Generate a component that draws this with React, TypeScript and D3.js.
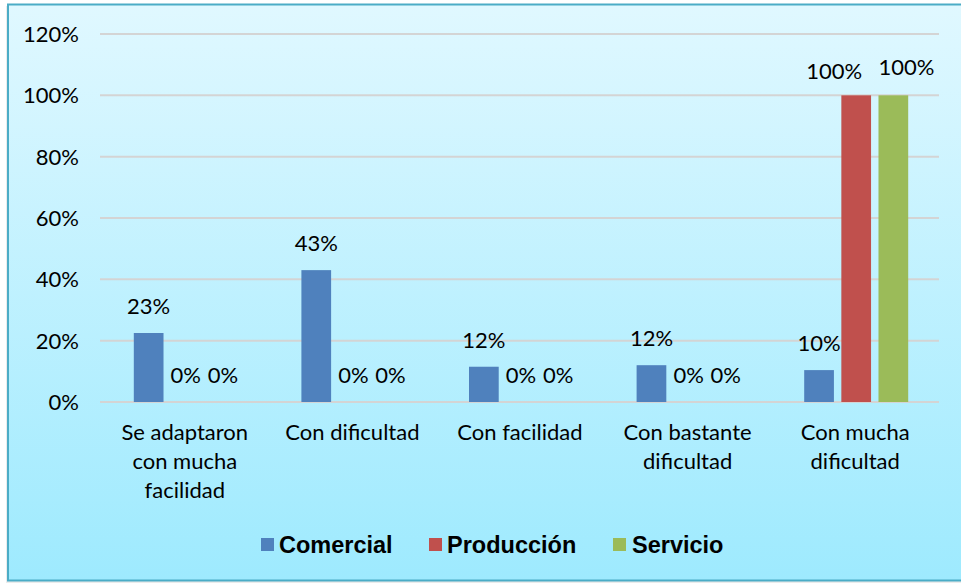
import React from "react";
import * as d3 from "d3";

const categories: string[][] = [
  ["Se adaptaron", "con mucha", "facilidad"],
  ["Con dificultad"],
  ["Con facilidad"],
  ["Con bastante", "dificultad"],
  ["Con mucha", "dificultad"],
];
const seriesNames = ["Comercial", "Producción", "Servicio"];
const comercial = [0.225, 0.43, 0.115, 0.12, 0.104];
const produccion = [0, 0, 0, 0, 1];
const servicio = [0, 0, 0, 0, 1];
const yTicks = [0, 0.2, 0.4, 0.6, 0.8, 1.0, 1.2];

const colors = ["#4f81bd", "#c0504d", "#9bbb59"];
const W = 961;
const H = 583;

// manual label nudges (as placed in the original chart)
const labelNudge: Record<string, [number, number]> = {
  "1-4": [-22, 3],
  "2-4": [13, -1],
};

export default function App() {
  const series = [comercial, produccion, servicio];
  const x0 = d3
    .scaleBand<number>()
    .domain(categories.map((_, i) => i))
    .range([102, 940]);
  const x1 = d3
    .scaleBand<number>()
    .domain([0, 1, 2])
    .range([0, 104])
    .paddingInner(0.2);
  const y = d3.scaleLinear().domain([0, 1.2]).range([402, 34]);
  const groupOffset = (x0.bandwidth() - 104) / 2;
  const fmt = (v: number) => `${Math.round(v * 100)}%`;
  const font = "Lato, 'Open Sans', sans-serif";

  const legendItems = [
    { sx: 261, tx: 279 },
    { sx: 429, tx: 447 },
    { sx: 613, tx: 632 },
  ];

  return (
    <svg
      width={W}
      height={H}
      style={{ position: "absolute", left: 0, top: 0, display: "block" }}
    >
      <defs>
        <linearGradient id="bg" x1="0" y1="0" x2="0" y2="1">
          <stop offset="0" stopColor="#e0f8ff" />
          <stop offset="1" stopColor="#9eeafe" />
        </linearGradient>
      </defs>
      <rect x={6} y={6} width={W} height={H - 6} fill="#d8d8d8" opacity={0.5} />
      <rect
        x={8}
        y={4.5}
        width={W + 10}
        height={576}
        fill="url(#bg)"
        stroke="#4bacc6"
        strokeWidth={2}
      />
      {yTicks.map((t) => (
        <g key={t}>
          <line
            x1={100}
            x2={939}
            y1={y(t)}
            y2={y(t)}
            stroke="#d4d4d4"
            strokeWidth={2}
          />
          <text
            x={79}
            y={y(t) + 8}
            textAnchor="end"
            fontFamily={font}
            fontSize={22}
            fill="#000"
          >
            {fmt(t)}
          </text>
        </g>
      ))}
      {categories.map((cat, ci) => {
        const gx = (x0(ci) as number) + groupOffset;
        return (
          <g key={ci}>
            {series.map((s, si) => {
              const bx = gx + (x1(si) as number);
              const bw = x1.bandwidth();
              const v = s[ci];
              const nudge = labelNudge[`${si}-${ci}`] || [0, 0];
              return (
                <g key={si}>
                  {v > 0 && (
                    <rect
                      x={bx}
                      y={y(v)}
                      width={bw}
                      height={y(0) - y(v)}
                      fill={colors[si]}
                    />
                  )}
                  <text
                    x={bx + bw / 2 + nudge[0]}
                    y={y(v) - 19 + nudge[1]}
                    textAnchor="middle"
                    fontFamily={font}
                    fontSize={22}
                    fill="#000"
                  >
                    {fmt(v)}
                  </text>
                </g>
              );
            })}
            <text
              textAnchor="middle"
              fontFamily={font}
              fontSize={22}
              fill="#000"
            >
              {cat.map((line, li) => (
                <tspan
                  key={li}
                  x={(x0(ci) as number) + x0.bandwidth() / 2 - 1}
                  y={440 + li * 29}
                >
                  {line}
                </tspan>
              ))}
            </text>
          </g>
        );
      })}
      {seriesNames.map((name, i) => (
        <g key={name}>
          <rect x={legendItems[i].sx} y={538} width={13} height={13} fill={colors[i]} />
          <text
            x={legendItems[i].tx}
            y={553}
            fontFamily="'Liberation Sans', Arial, sans-serif"
            fontWeight="bold"
            fontSize={23.5}
            fill="#000"
          >
            {name}
          </text>
        </g>
      ))}
    </svg>
  );
}
